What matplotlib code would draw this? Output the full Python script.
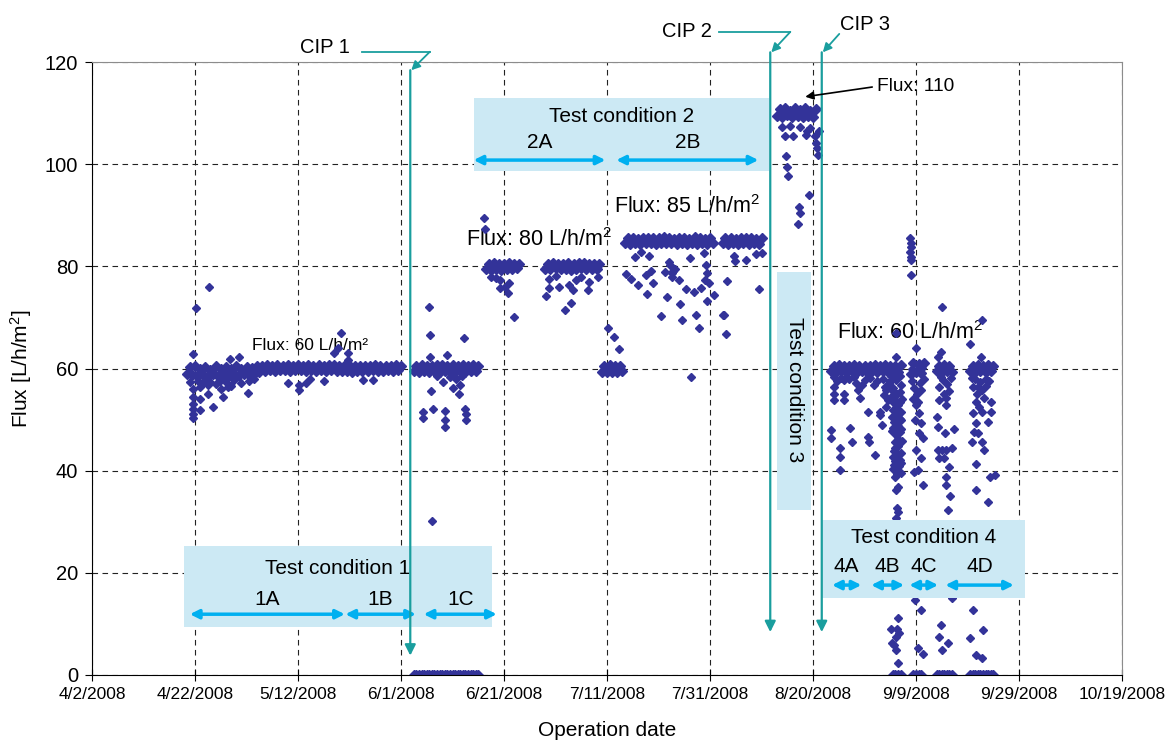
import numpy as np
import matplotlib
matplotlib.use("Agg")
import matplotlib.pyplot as plt
import matplotlib.dates as mdates
from matplotlib.patches import Rectangle
from matplotlib.ticker import FuncFormatter, MultipleLocator
from datetime import datetime

plt.rcParams['font.family'] = ['Liberation Sans', 'DejaVu Sans']
plt.rcParams['mathtext.fontset'] = 'custom'
plt.rcParams['mathtext.rm'] = 'Liberation Sans'
plt.rcParams['mathtext.it'] = 'Liberation Sans'

# operation days counted from 4/2/2008, flux in L/h/m2
T0 = mdates.date2num(datetime(2008, 4, 2))
STEP = 0.5  # logging interval of the steady runs (days)

# steady runs: first logged day + flux readings
run1_start = 18.5
run1_flux = [59.0, 60.3, 58.7, 60.4, 58.5, 59.9, 58.8, 60.2, 58.6, 59.8,
             58.9, 60.4, 58.6, 60.0, 58.8, 60.3, 58.5, 59.9, 58.9, 60.4,
             58.7, 60.0, 58.9, 60.3, 58.7, 60.1, 59.0, 60.4, 59.3, 60.5,
             59.6, 60.6, 59.7, 60.5, 59.6, 60.6, 59.7, 60.5, 59.8, 60.6,
             59.6, 60.5, 59.8, 60.6, 59.7, 60.5, 59.6, 60.6, 59.7, 60.4,
             59.6, 60.6, 59.8, 60.5, 59.6, 60.6, 59.7, 60.6, 59.6, 60.5,
             59.5, 60.4, 59.6, 60.5, 59.4, 60.4, 59.5, 60.5, 59.6, 60.5,
             59.5, 60.4, 59.7, 60.6, 59.6, 60.5, 59.5, 60.5, 59.7, 60.5,
             59.6, 60.6, 59.7, 60.5]
run1c_start = 62.5
run1c_flux = [59.5, 60.5, 59.4, 60.6, 59.6, 60.4, 59.3, 60.5, 59.5, 60.6,
              59.4, 60.7, 59.5, 60.4, 59.4, 60.6, 59.3, 60.5, 59.6, 60.6,
              59.4, 60.5, 59.6, 60.7, 59.5, 60.5]
stop1_start = 62.5
stop1_flux = [0.0, 0.0, 0.0, 0.0, 0.0, 0.0, 0.0, 0.0, 0.0, 0.0, 0.0, 0.0, 0.0,
              0.0, 0.0, 0.0, 0.0, 0.0, 0.0, 0.0, 0.0, 0.0, 0.0, 0.0, 0.0, 0.0]
run2a1_start = 76.5
run2a1_flux = [79.5, 80.5, 79.3, 80.6, 79.5, 80.4, 79.3, 80.5, 79.4, 80.6,
               79.4, 80.4, 79.6, 80.5]
run2a2_start = 88.0
run2a2_flux = [79.5, 80.5, 79.4, 80.6, 79.6, 80.4, 79.4, 80.5, 79.5, 80.7,
               79.3, 80.5, 79.4, 80.6, 79.6, 80.6, 79.4, 80.4, 79.5, 80.5,
               79.4, 80.5]
run60_start = 99.0
run60_flux = [59.4, 60.5, 59.3, 60.6, 59.4, 60.4, 59.3, 60.5, 59.5]
run2b1_start = 103.5
run2b1_flux = [84.5, 85.5, 84.4, 85.6, 84.6, 85.4, 84.4, 85.5, 84.6, 85.6,
               84.5, 85.5, 84.4, 85.6, 84.5, 85.7, 84.5, 85.5, 84.6, 85.4,
               84.4, 85.6, 84.5, 85.5, 84.3, 85.4, 84.5, 85.7, 84.4, 85.5,
               84.6, 85.4, 84.4, 85.6, 84.5]
run2b2_start = 122.5
run2b2_flux = [84.5, 85.5, 84.4, 85.6, 84.6, 85.4, 84.4, 85.6, 84.5, 85.5,
               84.3, 85.6, 84.5, 85.4, 84.4, 85.5]
run3_start = 133.0
run3_flux = [109.5, 110.8, 109.2, 110.9, 109.6, 110.5, 109.3, 111.0, 109.4,
             110.7, 109.2, 110.9, 109.5, 110.5, 109.3, 110.8]
run4a_start = 143.5
run4a_flux = [59.5, 60.5, 59.4, 60.6, 59.5, 60.4, 59.3, 60.5, 59.5, 60.6,
              59.4, 60.5, 59.5, 60.4, 59.3, 60.5, 59.5, 60.6, 59.4, 60.5,
              59.5, 60.6, 59.3, 60.4, 59.5, 60.5, 59.4, 60.6]
run4c_start = 159.0
run4c_flux = [59.0, 61.0, 59.3, 60.8, 59.1, 61.0]
run4d1_start = 164.0
run4d1_flux = [59.5, 60.5, 59.3, 60.6, 59.5, 60.4, 59.4]
run4d2_start = 170.5
run4d2_flux = [59.5, 60.5, 59.4, 60.6, 59.5, 60.4, 59.3, 60.6, 59.5, 60.4]
stop4b_start = 155.5
stop4b_flux = [0.0, 0.0, 0.0, 0.0]
stop4c_start = 159.5
stop4c_flux = [0.0, 0.0, 0.0, 0.0]
stop4d1_start = 164.0
stop4d1_flux = [0.0, 0.0, 0.0, 0.0, 0.0, 0.0, 0.0]
stop4d2_start = 170.5
stop4d2_flux = [0.0, 0.0, 0.0, 0.0, 0.0, 0.0, 0.0, 0.0, 0.0, 0.0]

# scattered readings (day, flux)
c1_day = [20.1, 22.8, 19.7, 26.8, 28.6, 48.3, 46.9, 47.8, 49.7, 49.7,
          19.7, 19.7, 19.7, 19.7, 19.7, 19.7, 21.0, 21.0, 21.0, 22.5, 22.5, 22.5,
          23.5, 25.5, 30.3, 38.1, 40.2, 40.2, 41.6, 45.1, 42.3, 52.6, 54.6, 26.4,
          20.5, 21.5, 23.0, 24.0, 24.8, 26.0, 27.5, 29.0, 30.5, 31.5, 25.0, 27.0,
          20.0, 19.0,
          65.4, 65.6, 72.2, 65.7, 69.0, 68.1, 70.0, 71.3, 65.8, 64.3, 64.2, 66.2,
          68.6, 68.6, 68.5, 72.4, 72.6, 72.7, 66.0, 71.4, 69.5, 70.6, 71.8, 67.0]
c1_flux = [71.8, 75.9, 62.8, 61.9, 62.2, 66.9, 63.0, 64.0, 63.1, 61.7,
           56.0, 54.5, 53.0, 52.0, 51.0, 50.3, 56.4, 54.0, 51.9, 57.8, 56.7, 55.0,
           52.4, 54.4, 55.3, 57.1, 56.8, 55.8, 57.1, 57.6, 57.9, 57.8, 57.8, 56.4,
           57.6, 57.2, 57.4, 57.0, 57.6, 57.3, 57.7, 57.2, 57.5, 57.9, 55.9, 56.5,
           58.8, 57.3,
           72.0, 66.6, 65.9, 62.2, 62.6, 57.4, 56.2, 55.0, 55.5, 51.5, 50.4, 52.0,
           51.7, 49.9, 48.6, 52.0, 51.0, 50.0, 30.2, 56.8, 58.3, 57.9, 58.5, 58.6]
c2_day = [76.2, 76.3, 79.2, 79.2, 81.0, 80.8, 81.9, 80.1, 77.5, 78.5,
          88.1, 88.8, 90.7, 92.7, 94.0, 93.4, 96.4, 96.6, 93.0, 91.9, 98.2, 88.8,
          90.0, 95.0, 100.2, 101.3, 102.3,
          105.5, 106.6, 108.2, 103.6, 104.7, 106.0, 107.8, 107.6, 108.6, 109.0,
          110.5, 111.2, 112.1, 112.3, 112.6, 112.9, 113.3, 112.6, 113.9, 111.7,
          114.1, 114.6, 115.3, 116.2, 116.8, 117.2, 117.8, 118.3, 118.8, 119.2,
          119.0, 119.4, 119.8, 120.7, 119.4, 122.5, 122.7, 123.1, 123.3, 124.7,
          124.9, 127.0, 128.9, 130.1, 129.6, 116.3]
c2_flux = [89.4, 87.3, 77.3, 75.8, 76.7, 74.7, 70.0, 76.0, 78.0, 77.8,
           74.2, 75.7, 76.0, 76.3, 77.3, 75.4, 75.4, 77.0, 72.9, 71.5, 77.9, 77.5,
           78.2, 78.0, 67.9, 66.2, 63.8,
           81.9, 82.9, 82.0, 78.5, 77.5, 76.4, 74.5, 78.3, 79.0, 76.7,
           70.3, 78.9, 80.9, 80.3, 78.6, 79.1, 79.4, 77.9, 77.3, 73.9,
           72.6, 69.4, 75.5, 81.6, 74.9, 70.5, 67.9, 75.7, 82.7, 80.3,
           77.3, 78.6, 76.8, 74.4, 73.3, 70.5, 70.5, 66.8, 77.2, 82.0,
           81.1, 81.2, 82.4, 82.7, 75.5, 58.4]
c3_day = [134.6, 136.2, 138.9, 138.6, 140.3, 141.1, 140.6, 140.7, 140.9, 134.8,
          135.0, 135.1, 139.3, 137.3, 137.5, 137.0, 134.0, 135.5, 137.5, 139.5,
          133.5, 134.8, 136.0, 137.3, 138.6, 139.9]
c3_flux = [105.5, 105.5, 106.4, 105.7, 105.5, 106.4, 104.1, 103.1, 101.8, 101.6,
           99.4, 97.6, 94.0, 91.7, 90.5, 88.2, 107.3, 107.5, 107.2, 107.0,
           110.1, 110.0, 110.2, 110.0, 110.1, 110.0]
c4_day = [144.1, 144.1, 144.1, 144.1, 143.5, 143.5, 145.2, 145.2, 145.2, 146.1,
          146.1, 146.1, 147.2, 147.6, 148.3, 148.7, 149.1, 150.6, 150.6, 150.8,
          152.1, 153.1, 153.1, 153.4, 149.6, 151.9, 154.2, 154.5, 154.2, 156.1,
          156.1, 144.6, 145.5, 147.0, 148.0, 150.0, 151.0, 152.5, 153.6, 154.8,
          154.0, 153.8,
          155.0, 155.6, 156.2, 156.8, 155.3, 156.0, 156.6, 157.2, 155.5, 156.3,
          157.0, 155.8, 156.5, 157.1, 155.4, 156.1, 156.8, 155.9, 156.6, 157.2,
          155.7, 156.4, 157.0, 156.0, 156.7, 155.6, 157.1, 156.3, 155.9, 156.6,
          156.2, 156.4, 156.6, 156.1, 157.1,
          155.2, 156.0, 156.9, 155.5, 156.4, 157.0, 155.7, 156.9, 155.3, 156.1,
          156.8, 155.6, 156.4, 157.0, 155.9, 156.5, 155.5, 156.2, 156.9, 156.5,
          155.8,
          156.5, 156.3, 156.7, 156.1, 155.1, 155.8, 156.2, 156.5, 155.3,
          158.9, 159.0, 159.1, 158.9, 159.0, 159.1, 159.1,
          160.0, 159.7, 160.1, 160.3, 160.0, 160.6, 159.8, 160.9, 160.6, 161.3,
          160.0, 160.9, 159.7, 160.3, 161.3, 159.8, 160.9, 160.3, 161.3,
          159.3, 160.8, 161.5, 159.5, 161.0, 159.2, 160.2, 161.2,
          165.0, 164.2, 164.8, 164.5, 165.5, 164.5, 165.8, 164.0, 164.2, 165.6,
          167.3, 167.0, 164.2, 165.1, 165.8, 164.5, 165.5, 166.4, 165.8, 165.8,
          166.6, 166.3, 167.0, 164.8, 164.4, 166.3, 165.0,
          165.2, 166.0, 166.8, 164.8, 166.5, 165.9,
          172.8, 170.5, 172.6, 171.0, 171.9, 172.9, 171.6, 173.2, 172.3, 174.5,
          171.0, 172.9, 174.5, 171.6, 173.9, 171.3, 172.1, 170.8, 172.9, 173.2,
          171.6, 174.3, 175.3, 171.6, 173.9, 171.0, 173.0, 170.5, 171.6, 172.8,
          171.5, 172.4, 173.5, 174.2, 170.9, 172.0, 173.6]
c4_flux = [58.4, 56.4, 55.1, 53.8, 48.0, 46.3, 44.4, 42.7, 40.1, 57.8,
           55.1, 53.8, 48.3, 45.7, 57.1, 55.8, 54.2, 51.5, 46.6, 45.7,
           43.1, 51.5, 50.9, 48.9, 56.8, 56.8, 55.8, 53.8, 52.5, 62.3,
           66.9, 57.6, 58.2, 57.9, 58.3, 57.7, 58.2, 57.6, 58.0, 57.1,
           56.4, 54.9,
           57.5, 56.2, 57.8, 55.4, 54.6, 53.8, 52.9, 54.1, 51.8, 50.9,
           51.5, 49.6, 48.7, 49.9, 47.8, 46.9, 47.5, 45.6, 44.8, 45.9,
           43.9, 42.8, 43.5, 41.9, 40.9, 40.3, 41.5, 39.4, 38.8, 36.9,
           36.2, 32.6, 32.0, 30.7, 39.5,
           58.6, 58.9, 58.5, 55.6, 55.0, 56.8, 53.2, 53.5, 50.5, 52.2,
           50.2, 48.4, 47.6, 48.2, 44.4, 46.2, 42.6, 43.7, 42.0, 39.9,
           41.2,
           11.1, 9.1, 8.2, 7.5, 9.1, 5.9, 4.9, 2.3, 6.2,
           85.5, 84.6, 83.7, 82.8, 81.9, 81.2, 78.3,
           64.0, 56.1, 55.1, 53.5, 52.9, 51.2, 49.9, 49.3, 47.3, 46.3,
           44.0, 42.4, 39.8, 40.1, 37.2, 14.7, 12.7, 5.2, 4.2,
           57.5, 57.2, 58.0, 54.0, 55.8, 60.0, 59.8, 60.1,
           72.1, 62.3, 63.3, 56.4, 55.1, 53.8, 52.9, 50.6, 48.6, 47.3,
           48.1, 44.4, 44.0, 44.0, 44.0, 42.4, 42.4, 40.8, 38.8, 37.2,
           35.0, 32.3, 15.0, 9.8, 7.5, 6.3, 4.9,
           57.8, 57.0, 58.1, 58.4, 55.6, 54.2,
           69.5, 64.8, 62.3, 56.4, 55.1, 55.8, 53.5, 54.2, 52.5, 53.5,
           51.2, 51.5, 51.4, 49.3, 49.6, 47.6, 47.3, 45.7, 45.7, 44.0,
           41.4, 38.8, 39.2, 36.2, 33.9, 12.7, 8.8, 7.2, 3.9, 3.3,
           57.9, 57.4, 58.0, 57.6, 58.2, 56.3, 56.6]

runs = [(run1_start, run1_flux), (run1c_start, run1c_flux), (stop1_start, stop1_flux),
        (run2a1_start, run2a1_flux), (run2a2_start, run2a2_flux),
        (run60_start, run60_flux), (run2b1_start, run2b1_flux),
        (run2b2_start, run2b2_flux), (run3_start, run3_flux),
        (run4a_start, run4a_flux), (run4c_start, run4c_flux),
        (run4d1_start, run4d1_flux), (run4d2_start, run4d2_flux),
        (stop4b_start, stop4b_flux), (stop4c_start, stop4c_flux),
        (stop4d1_start, stop4d1_flux), (stop4d2_start, stop4d2_flux)]
scatter = [(c1_day, c1_flux), (c2_day, c2_flux), (c3_day, c3_flux), (c4_day, c4_flux)]

PT = '#333399'
BOX = '#CCE9F4'
ARR = '#00B0F0'
CIP = '#1A9E9E'


def d(day):
    return T0 + day


fig = plt.figure(figsize=(11.72, 7.42), dpi=100)
ax = fig.add_axes([92 / 1172, 67 / 742, 1030 / 1172, 613 / 742])

for start, flux in runs:
    days = start + STEP * np.arange(len(flux))
    ax.plot(d(days), flux, 'D', ms=4.6, color=PT, mec=PT, zorder=2)
for days, flux in scatter:
    ax.plot(d(np.array(days)), flux, 'D', ms=3.6, color=PT, mec=PT, zorder=2)

ax.set_xlim(d(0), d(200))
ax.set_ylim(0, 120)
ax.set_xticks([d(k) for k in range(0, 201, 20)])
ax.yaxis.set_major_locator(MultipleLocator(20))


def datefmt(x, pos):
    t = mdates.num2date(x)
    return f"{t.month}/{t.day}/{t.year}"


ax.xaxis.set_major_formatter(FuncFormatter(datefmt))
ax.grid(True, color='#222222', linestyle=(0, (5, 4)), linewidth=0.8, zorder=0)
ax.set_axisbelow(True)
ax.tick_params(axis='x', direction='inout', length=9, labelsize=12.5, pad=4)
ax.tick_params(axis='y', direction='out', length=5, labelsize=14.5, pad=5)
for s in ('top', 'right'):
    ax.spines[s].set_color('#8c8c8c')
ax.set_xlabel('Operation date', fontsize=15, labelpad=14)
ax.set_ylabel('Flux [L/h/m$^2$]', fontsize=15, labelpad=8)

# test-condition boxes
boxes = [(17.8, 9.4, 59.8, 15.9), (74.1, 98.7, 57.4, 14.3),
         (133.1, 32.3, 6.6, 46.6), (141.8, 15.1, 39.4, 15.2)]
for x0, y0, w, h in boxes:
    ax.add_patch(Rectangle((d(x0), y0), w, h, facecolor=BOX, edgecolor='none', zorder=3))

kw = dict(fontsize=15, ha='center', va='center', zorder=4)
ax.text(d(47.7), 20.8, 'Test condition 1', **kw)
ax.text(d(102.8), 109.3, 'Test condition 2', **kw)
ax.text(d(136.4), 55.8, 'Test condition 3', rotation=-90, **kw)
ax.text(d(161.4), 27.0, 'Test condition 4', **kw)

spans = [('1A', 19.0, 49.1, 11.9, 14.8), ('1B', 49.2, 62.9, 11.9, 14.8),
         ('1C', 64.4, 78.6, 11.9, 14.8),
         ('2A', 74.1, 99.7, 100.8, 104.2), ('2B', 101.8, 129.4, 100.8, 104.2),
         ('4A', 143.7, 149.4, 17.6, 21.2), ('4B', 151.3, 157.7, 17.6, 21.2),
         ('4C', 158.7, 164.3, 17.6, 21.2), ('4D', 165.7, 179.0, 17.6, 21.2)]
for lab, a, b, y, ty in spans:
    ax.annotate('', xy=(d(b), y), xytext=(d(a), y),
                arrowprops=dict(arrowstyle='<|-|>', color=ARR, lw=2.5,
                                mutation_scale=13, shrinkA=0, shrinkB=0),
                zorder=4, annotation_clip=False)
    ax.text(d((a + b) / 2), ty, lab, **kw)

# cleaning events
cip = [('CIP 1', 61.8, 118.4, 3.8, 45.2, 122.9, 52.4, 65.6, 122.0),
       ('CIP 2', 131.7, 121.9, 8.4, 115.6, 125.9, 121.8, 135.6, 125.9)]
for lab, x, ytop, ybot, tx, ty, h0, h1, hy in cip:
    ax.text(d(tx), ty, lab, fontsize=14.5, ha='center', va='center', clip_on=False)
    ax.plot([d(h0), d(h1)], [hy, hy], color=CIP, lw=1.3, clip_on=False, zorder=5)
    ax.annotate('', xy=(d(x + 0.2), ytop), xytext=(d(h1), hy),
                arrowprops=dict(arrowstyle='-|>', color=CIP, lw=1.3, mutation_scale=13,
                                shrinkA=0, shrinkB=0), annotation_clip=False, zorder=5)
    ax.annotate('', xy=(d(x), ybot), xytext=(d(x), ytop),
                arrowprops=dict(arrowstyle='-|>', color=CIP, lw=1.6, mutation_scale=16,
                                shrinkA=0, shrinkB=0), annotation_clip=False, zorder=5)

ax.text(d(145.3), 127.3, 'CIP 3', fontsize=14.5, ha='left', va='center', clip_on=False)
ax.annotate('', xy=(d(141.9), 121.9), xytext=(d(145.1), 125.5),
            arrowprops=dict(arrowstyle='-|>', color=CIP, lw=1.3, mutation_scale=13,
                            shrinkA=0, shrinkB=0), annotation_clip=False, zorder=5)
ax.annotate('', xy=(d(141.7), 8.4), xytext=(d(141.7), 121.9),
            arrowprops=dict(arrowstyle='-|>', color=CIP, lw=1.6, mutation_scale=16,
                            shrinkA=0, shrinkB=0), annotation_clip=False, zorder=5)

# flux set points
ax.text(d(31.0), 64.6, 'Flux: 60 L/h/m²', fontsize=12.5, va='center', zorder=1)
ax.text(d(72.6), 85.3, 'Flux: 80 L/h/m$^2$', fontsize=15.5, va='center', zorder=1)
ax.text(d(101.4), 91.7, 'Flux: 85 L/h/m$^2$', fontsize=15.5, va='center', zorder=1)
ax.text(d(144.6), 67.1, 'Flux: 60 L/h/m$^2$', fontsize=15.5, va='center', zorder=1)
ax.text(d(152.4), 115.3, 'Flux: 110', fontsize=13.8, va='center', zorder=1)
ax.annotate('', xy=(d(138.5), 113.2), xytext=(d(151.5), 115.1),
            arrowprops=dict(arrowstyle='-|>', color='black', lw=1.2, mutation_scale=12,
                            shrinkA=0, shrinkB=0), zorder=5)

fig.savefig('out.png', dpi=100)
